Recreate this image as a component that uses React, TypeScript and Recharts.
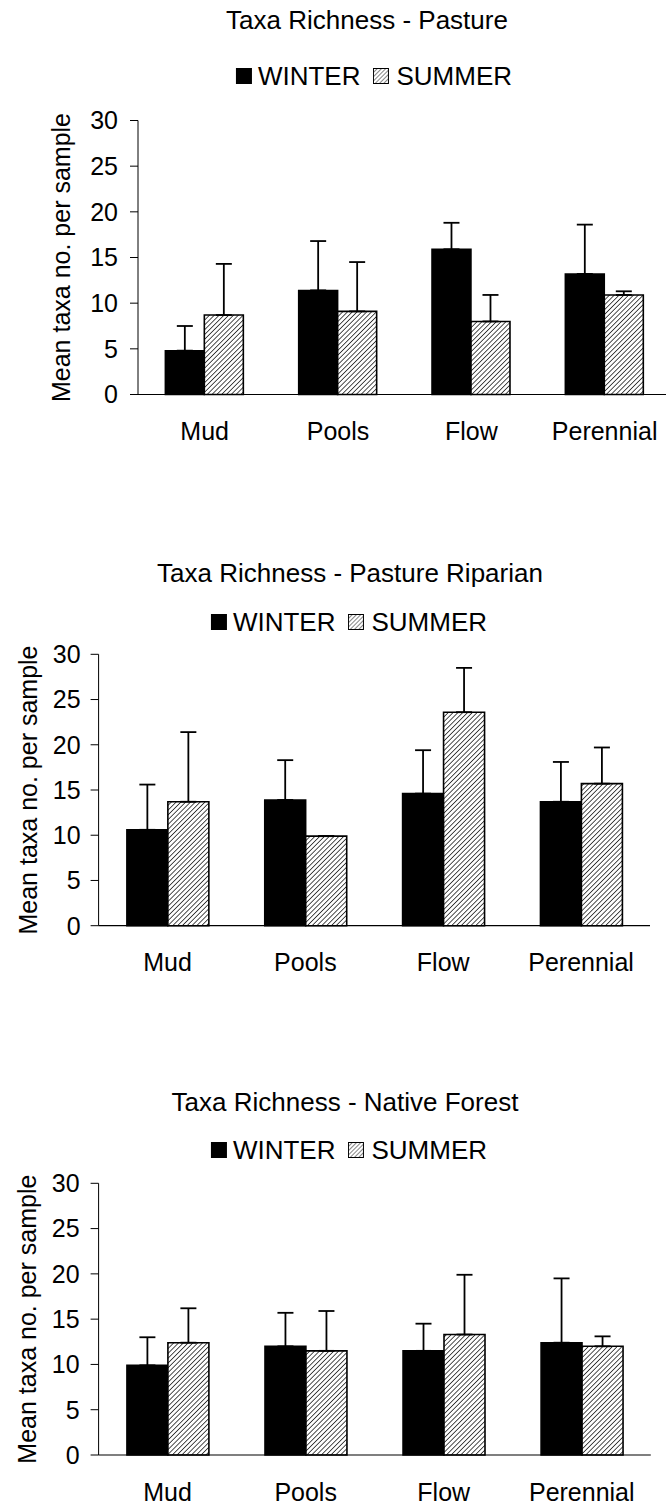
import React from "react";
import { BarChart, Bar, XAxis, YAxis, ErrorBar, Label } from "recharts";

const FONT = '"Liberation Sans", Arial, sans-serif';

const categories = ["Mud", "Pools", "Flow", "Perennial"];
const yTicks = [0, 5, 10, 15, 20, 25, 30];
const boundaryTicks = [0, 1, 2, 3, 4];
const seriesNames = ["WINTER", "SUMMER"];
const yLabel = "Mean taxa no. per sample";

// Pasture
const pastureWinter = [4.8, 11.4, 15.9, 13.2];
const pastureWinterErr = [2.7, 5.4, 2.9, 5.4];
const pastureSummer = [8.7, 9.1, 8.0, 10.9];
const pastureSummerErr = [5.6, 5.4, 2.9, 0.4];

// Pasture Riparian
const riparianWinter = [10.6, 13.9, 14.6, 13.7];
const riparianWinterErr = [5.0, 4.4, 4.8, 4.4];
const riparianSummer = [13.7, 9.9, 23.6, 15.7];
const riparianSummerErr = [7.7, 0, 4.9, 4.0];

// Native Forest
const forestWinter = [9.9, 12.0, 11.5, 12.4];
const forestWinterErr = [3.1, 3.7, 3.0, 7.1];
const forestSummer = [12.4, 11.5, 13.3, 12.0];
const forestSummerErr = [3.8, 4.4, 6.6, 1.1];

function buildRows(w: number[], we: number[], s: number[], se: number[]) {
  return categories.map((name, i) => ({
    name,
    winter: w[i],
    winterErr: [0, we[i]],
    summer: s[i],
    summerErr: [0, se[i]],
  }));
}

function Legend({ cx, cy, id }: { cx: number; cy: number; id: string }) {
  return (
    <div
      style={{
        position: "absolute",
        left: cx,
        top: cy,
        transform: "translate(-50%, -50%)",
        display: "flex",
        alignItems: "center",
        whiteSpace: "nowrap",
        fontFamily: FONT,
        fontSize: 26,
        color: "#000",
        lineHeight: 1,
      }}
    >
      <span style={{ width: 16, height: 16, background: "#000", display: "inline-block", marginRight: 6 }} />
      <span>{seriesNames[0]}</span>
      <svg width={16} height={16} style={{ marginLeft: 12, marginRight: 8 }}>
        <defs>
          <pattern id={id} width={3} height={3} patternUnits="userSpaceOnUse" patternTransform="rotate(45)">
            <rect width={3} height={3} fill="#fff" />
            <line x1={0} y1={0} x2={0} y2={3} stroke="#333" strokeWidth={1.2} />
          </pattern>
        </defs>
        <rect x={0.5} y={0.5} width={15} height={15} fill={`url(#${id})`} stroke="#000" strokeWidth={1} />
      </svg>
      <span>{seriesNames[1]}</span>
    </div>
  );
}

type PanelProps = {
  id: string;
  title: string;
  rows: ReturnType<typeof buildRows>;
  top: number;
  width: number;
  height: number;
  margin: { top: number; right: number; bottom: number; left: number };
  titleX: number;
  titleY: number;
  legendX: number;
  legendY: number;
  labelX: number;
  tickGap: number;
};

function Panel(p: PanelProps) {
  const hatch = `hatch-${p.id}`;
  return (
    <>
      <div
        style={{
          position: "absolute",
          left: p.titleX,
          top: p.titleY,
          transform: "translate(-50%, -50%)",
          whiteSpace: "nowrap",
          fontFamily: FONT,
          fontSize: 26,
          color: "#000",
          lineHeight: 1,
        }}
      >
        {p.title}
      </div>
      <Legend cx={p.legendX} cy={p.legendY} id={`legend-${p.id}`} />
      <div style={{ position: "absolute", left: 0, top: p.top }}>
        <BarChart
          width={p.width}
          height={p.height}
          data={p.rows}
          margin={p.margin}
          barCategoryGap="20.5%"
          barGap={0}
          style={{ fontFamily: FONT }}
        >
          <defs>
            <pattern id={hatch} width={3.4} height={3.4} patternUnits="userSpaceOnUse" patternTransform="rotate(45)">
              <rect width={3.4} height={3.4} fill="#fff" />
              <line x1={0} y1={0} x2={0} y2={3.4} stroke="#222" strokeWidth={1.6} />
            </pattern>
          </defs>
          <XAxis
            xAxisId="cat"
            dataKey="name"
            interval={0}
            axisLine={{ stroke: "#000", strokeWidth: 1.2 }}
            tickLine={false}
            tickSize={0}
            tickMargin={28}
            height={1}
            tick={{ fill: "#000", fontSize: 25, fontFamily: FONT }}
          />
          <XAxis
            xAxisId="grid"
            type="number"
            domain={[0, 4]}
            ticks={boundaryTicks}
            tick={false}
            tickLine={{ stroke: "#000", strokeWidth: 1 }}
            tickSize={8}
            axisLine={false}
            height={1}
          />
          <YAxis
            domain={[0, 30]}
            ticks={yTicks}
            interval={0}
            width={60}
            axisLine={{ stroke: "#000", strokeWidth: 1 }}
            tickLine={{ stroke: "#000", strokeWidth: 1 }}
            tickSize={8}
            tickMargin={p.tickGap}
            tick={{ fill: "#000", fontSize: 25, fontFamily: FONT }}
          >
            <Label
              content={(lp: any) => {
                const vb = lp.viewBox || { y: 0, height: 0 };
                const y = vb.y + vb.height / 2;
                return (
                  <text
                    x={p.labelX}
                    y={y}
                    transform={`rotate(-90 ${p.labelX} ${y})`}
                    textAnchor="middle"
                    dominantBaseline="central"
                    fontSize={25}
                    fontFamily={FONT}
                    fill="#000"
                  >
                    {yLabel}
                  </text>
                );
              }}
            />
          </YAxis>
          <Bar
            xAxisId="cat"
            dataKey="winter"
            name={seriesNames[0]}
            fill="#000"
            stroke="#000"
            strokeWidth={1.5}
            isAnimationActive={false}
          >
            <ErrorBar dataKey="winterErr" direction="y" width={8} stroke="#000" strokeWidth={1.8} isAnimationActive={false} />
          </Bar>
          <Bar
            xAxisId="cat"
            dataKey="summer"
            name={seriesNames[1]}
            fill={`url(#${hatch})`}
            stroke="#000"
            strokeWidth={1.6}
            isAnimationActive={false}
          >
            <ErrorBar dataKey="summerErr" direction="y" width={8} stroke="#000" strokeWidth={1.8} isAnimationActive={false} />
          </Bar>
        </BarChart>
      </div>
    </>
  );
}

export default function App() {
  return (
    <div
      style={{
        position: "absolute",
        left: 0,
        top: 0,
        width: 666,
        height: 1506,
        overflow: "hidden",
        background: "#fff",
      }}
    >
      <Panel
        id="pasture"
        title="Taxa Richness - Pasture"
        rows={buildRows(pastureWinter, pastureWinterErr, pastureSummer, pastureSummerErr)}
        top={0}
        width={680}
        height={470}
        margin={{ top: 120.5, right: 8.7, bottom: 73.5, left: 78 }}
        titleX={367}
        titleY={20}
        legendX={374}
        legendY={76}
        labelX={61}
        tickGap={12}
      />
      <Panel
        id="riparian"
        title="Taxa Richness - Pasture Riparian"
        rows={buildRows(riparianWinter, riparianWinterErr, riparianSummer, riparianSummerErr)}
        top={540}
        width={666}
        height={460}
        margin={{ top: 114.3, right: 16, bottom: 72.3, left: 38.6 }}
        titleX={350}
        titleY={573}
        legendX={349}
        legendY={622}
        labelX={27.5}
        tickGap={10}
      />
      <Panel
        id="forest"
        title="Taxa Richness - Native Forest"
        rows={buildRows(forestWinter, forestWinterErr, forestSummer, forestSummerErr)}
        top={1040}
        width={666}
        height={466}
        margin={{ top: 143.3, right: 15.2, bottom: 49, left: 38.6 }}
        titleX={345}
        titleY={1102}
        legendX={349}
        legendY={1150}
        labelX={27}
        tickGap={11}
      />
    </div>
  );
}
